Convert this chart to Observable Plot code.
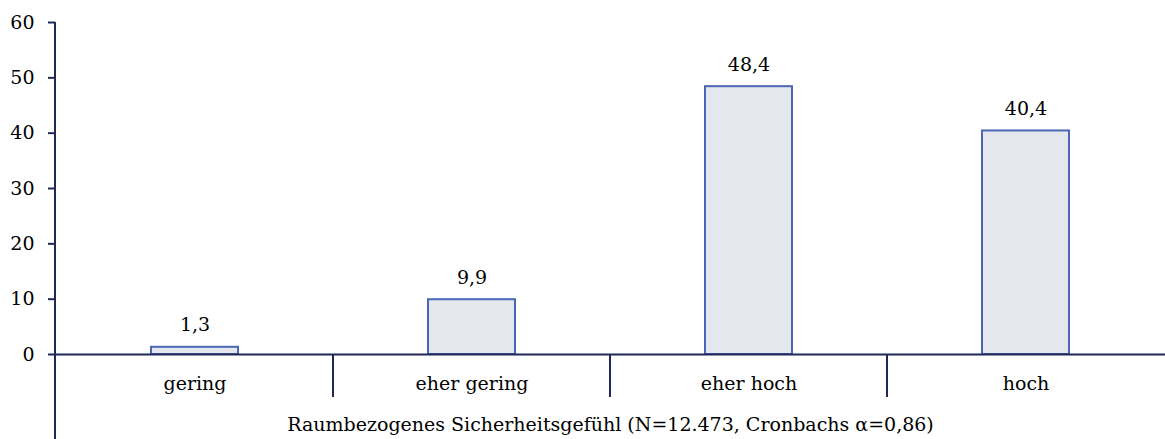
<!DOCTYPE html>
<html><head><meta charset="utf-8">
<script src="https://cdn.jsdelivr.net/npm/d3@7"></script>
<script src="https://cdn.jsdelivr.net/npm/@observablehq/plot@0.6"></script>
<style>
body{margin:0;background:#fff}
</style>
</head><body><div id="chart"></div>
<script>
const categories = ["gering", "eher gering", "eher hoch", "hoch"];
const values = [1.3, 9.9, 48.4, 40.4];
const yTicks = [0, 10, 20, 30, 40, 50, 60];
const xTitle = "Raumbezogenes Sicherheitsgefühl (N=12.473, Cronbachs α=0,86)";

const data = categories.map((c, i) => ({c, v: values[i]}));
const fmt = v => v.toFixed(1).replace(".", ",");
const axisColor = "#1f2858";
const serif = "DejaVu Serif";
const fs = 19;

const plot = Plot.plot({
  width: 1165, height: 439,
  marginLeft: 55, marginRight: 0, marginTop: 22, marginBottom: 85,
  style: {fontFamily: serif, fontSize: fs + "px", background: "#fff", color: "#000", overflow: "visible"},
  x: {domain: categories, padding: 0},
  y: {domain: [0, 60]},
  marks: [
    Plot.barY(data, {x: "c", y: "v", fill: "#e4e7ee", stroke: "#4a66b5", strokeWidth: 2, insetLeft: 95, insetRight: 95}),
    Plot.ruleY([0], {stroke: axisColor, strokeWidth: 2}),
    Plot.axisY({ticks: yTicks, tickSize: 7, tickPadding: 14, stroke: axisColor, strokeWidth: 2, label: null, fill: "#000", fontFamily: serif, fontSize: fs}),
    Plot.axisX({tickSize: 0, tickPadding: 22, label: null, fill: "#000", fontFamily: serif, fontSize: fs}),
    Plot.text(data, {x: "c", y: "v", text: d => fmt(d.v), dy: -22, fill: "#000", fontFamily: serif, fontSize: fs}),
    Plot.text([xTitle], {text: d => d, frameAnchor: "bottom", dy: 76, fill: "#000", fontFamily: serif, fontSize: fs})
  ]
});
document.getElementById("chart").appendChild(plot);

// axis line and category separators, positioned through the plot's scales
const xs = plot.scale("x"), ys = plot.scale("y");
const svg = d3.select(plot);
const g = svg.append("g").attr("stroke", axisColor).attr("stroke-width", 2);
const x0 = xs.range[0];
g.append("line").attr("x1", x0).attr("x2", x0).attr("y1", ys.apply(60)).attr("y2", 439);
const y0 = ys.apply(0);
categories.slice(1).forEach(c => {
  const x = xs.apply(c);
  g.append("line").attr("x1", x).attr("x2", x).attr("y1", y0).attr("y2", y0 + 43);
});
</script>
</body></html>
